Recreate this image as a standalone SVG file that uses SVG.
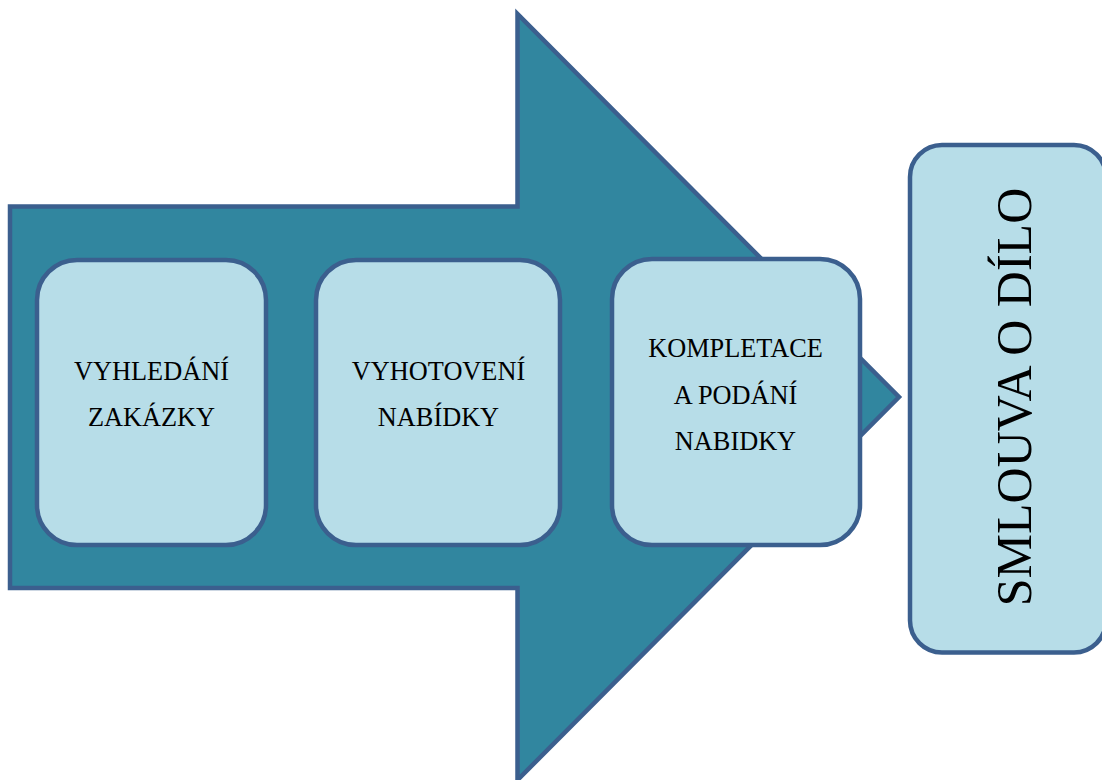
<svg xmlns="http://www.w3.org/2000/svg" width="1102" height="780" viewBox="0 0 1102 780">
  <style>
    .arrow { fill: #31869f; stroke: #3b5f8e; stroke-width: 4.5; stroke-linejoin: miter; stroke-miterlimit: 10; }
    .box { fill: #b7dde8; stroke: #3b5f8e; stroke-width: 4.5; }
    .label { font-family: "Liberation Serif", "Times New Roman", serif; font-size: 26.3px; fill: #000; text-anchor: middle; }
    .big { font-family: "Liberation Serif", "Times New Roman", serif; font-size: 50px; fill: #000; text-anchor: middle; }
  </style>
  <rect width="1102" height="780" fill="#ffffff"/>

  <!-- process arrow behind the steps -->
  <g id="connectors">
    <polygon class="arrow" points="10,206.5 517.5,206.5 517.5,14 899,397 517.5,780 517.5,588 10,588"/>
  </g>

  <g id="step-vyhledani">
    <rect class="box" x="37" y="260" width="229" height="285" rx="40" ry="40"/>
    <text class="label" x="151.5" y="380">VYHLEDÁNÍ</text>
    <text class="label" x="151.5" y="426">ZAKÁZKY</text>
  </g>

  <g id="step-vyhotoveni">
    <rect class="box" x="316" y="260" width="244" height="285" rx="40" ry="40"/>
    <text class="label" x="438.5" y="380">VYHOTOVENÍ</text>
    <text class="label" x="438.5" y="426">NABÍDKY</text>
  </g>

  <g id="step-kompletace">
    <rect class="box" x="612" y="259" width="248" height="286" rx="40" ry="40"/>
    <text class="label" x="735.5" y="357">KOMPLETACE</text>
    <text class="label" x="735.5" y="404">A PODÁNÍ</text>
    <text class="label" x="735.5" y="450">NABIDKY</text>
  </g>

  <g id="result-smlouva">
    <rect class="box" x="910" y="145" width="196" height="507.5" rx="32" ry="32"/>
    <text class="big" transform="translate(1031,397) rotate(-90)" x="0" y="0">SMLOUVA O DÍLO</text>
  </g>
</svg>
